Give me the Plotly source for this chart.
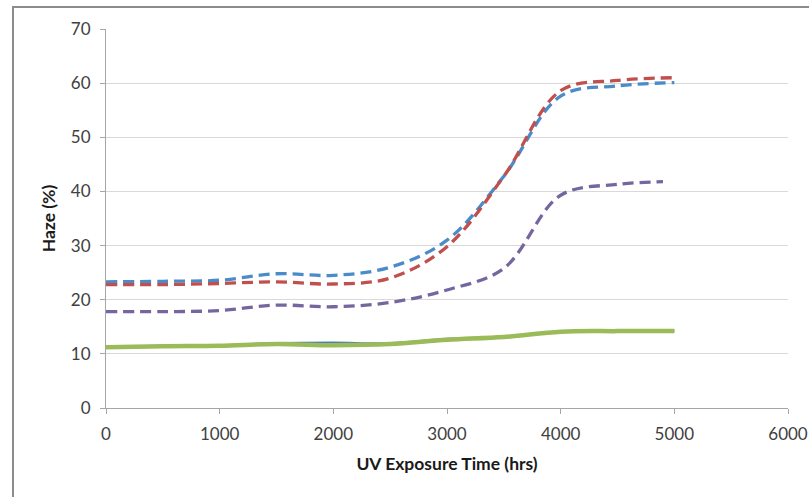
import plotly.graph_objects as go

hours = [0, 500, 1000, 1500, 2000, 2500, 3000, 3500, 4000, 4500, 5000]
hours_purple = [0, 500, 1000, 1500, 2000, 2500, 3000, 3500, 4000, 4500, 4900]

blue_dash = [23.3, 23.4, 23.6, 24.8, 24.5, 26.0, 31.0, 42.8, 57.6, 59.5, 60.1]
red_dash = [22.8, 22.8, 23.0, 23.3, 22.9, 24.0, 29.8, 42.8, 58.6, 60.5, 61.0]
purple_dash = [17.8, 17.8, 18.0, 19.0, 18.7, 19.5, 21.8, 25.8, 39.3, 41.3, 41.8]
blue_solid = [11.2, 11.4, 11.5, 11.9, 12.0, 11.9, 12.7, 13.1, 14.1, 14.2, 14.2]
green_solid = [11.2, 11.4, 11.5, 11.8, 11.6, 11.8, 12.6, 13.1, 14.1, 14.2, 14.2]

x_ticks = [0, 1000, 2000, 3000, 4000, 5000, 6000]
y_ticks = [0, 10, 20, 30, 40, 50, 60, 70]

fig = go.Figure()
fig.add_trace(go.Scatter(x=hours, y=blue_solid, mode="lines",
                         line=dict(color="#4A7EBB", width=3, shape="spline")))
fig.add_trace(go.Scatter(x=hours, y=green_solid, mode="lines",
                         line=dict(color="#9BBB59", width=4.5, shape="spline")))
fig.add_trace(go.Scatter(x=hours_purple, y=purple_dash, mode="lines",
                         line=dict(color="#7566A0", width=3.3, shape="spline", dash="11px,6px")))
fig.add_trace(go.Scatter(x=hours, y=blue_dash, mode="lines",
                         line=dict(color="#4A8BC9", width=3.3, shape="spline", dash="11px,6px")))
fig.add_trace(go.Scatter(x=hours, y=red_dash, mode="lines",
                         line=dict(color="#C0504D", width=3.3, shape="spline", dash="11px,6px")))

font_family = "Lato, 'Open Sans', sans-serif"

fig.update_layout(
    width=809, height=497,
    margin=dict(l=106, r=21, t=29, b=89, autoexpand=False),
    paper_bgcolor="white", plot_bgcolor="white",
    showlegend=False,
    font=dict(family=font_family, size=17, color="#404040"),
    xaxis=dict(
        range=[0, 6000], tickvals=x_ticks, ticktext=[str(v) for v in x_ticks],
        showgrid=False, zeroline=False, automargin=False,
        showline=True, linecolor="#A6A6A6", linewidth=1,
        ticks="outside", ticklen=5, tickcolor="#A6A6A6",
        ticklabelstandoff=6,
        title=dict(text="<b>UV Exposure Time (hrs)</b>", font=dict(size=17.5, color="#1a1a1a"), standoff=14),
    ),
    yaxis=dict(
        range=[0, 70], tickvals=y_ticks, ticktext=[str(v) for v in y_ticks],
        showgrid=True, gridcolor="#D9D9D9", gridwidth=1, zeroline=False, automargin=False,
        showline=True, linecolor="#A6A6A6", linewidth=1,
        ticks="outside", ticklen=5, tickcolor="#A6A6A6",
        ticklabelstandoff=6,
        title=dict(text="<b>Haze (%)</b>", font=dict(size=17.5, color="#1a1a1a"), standoff=10),
    ),
)

fig.add_shape(type="rect", xref="paper", yref="paper",
              x0=(13 - 106) / 682, x1=1.2, y0=-0.3, y1=1 + (29 - 7) / 379,
              line=dict(color="#8C8C8C", width=2), fillcolor="rgba(0,0,0,0)", layer="below")

fig.write_html("out.html", config={"displayModeBar": False},
               post_script="document.body.style.margin='0';document.body.style.overflow='hidden';")
